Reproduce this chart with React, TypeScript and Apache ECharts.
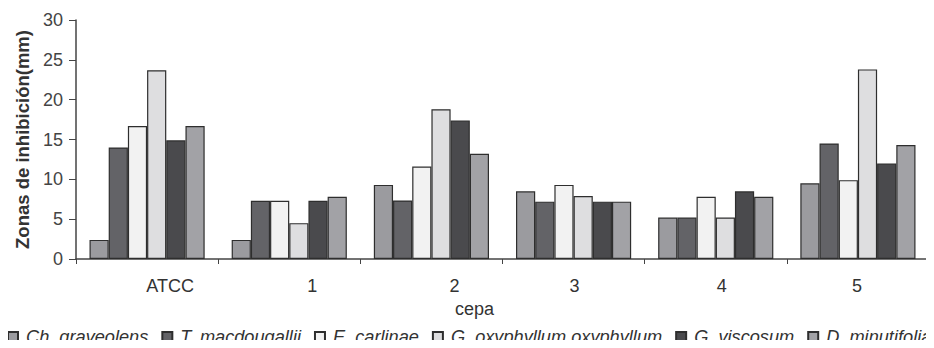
import React, { useEffect, useRef } from "react";
import * as echarts from "echarts";

const categories = ["ATCC", "1", "2", "3", "4", "5"];
const seriesNames = [
  "Ch. graveolens",
  "T. macdougallii",
  "E. carlinae",
  "G. oxyphyllum oxyphyllum",
  "G. viscosum",
  "D. minutifolia",
];
const chGraveolens = [2.4, 2.4, 9.3, 8.5, 5.2, 9.5];
const tMacdougallii = [14.0, 7.3, 7.35, 7.2, 5.2, 14.5];
const eCarlinae = [16.7, 7.3, 11.6, 9.3, 7.8, 9.9];
const gOxyphyllum = [23.7, 4.5, 18.8, 7.9, 5.2, 23.8];
const gViscosum = [14.9, 7.3, 17.4, 7.2, 8.5, 12.0];
const dMinutifolia = [16.7, 7.8, 13.2, 7.2, 7.8, 14.3];

const colors = ["#9b9b9f", "#636367", "#f2f2f2", "#dedee0", "#4a4a4d", "#a2a2a6"];
// horizontal shift of each category label (px), as in the original figure
const labelShift: Record<string, number> = { ATCC: 23, "1": 23, "2": 23, "3": 1, "4": 6, "5": -1 };

export default function App() {
  const ref = useRef<HTMLDivElement>(null);
  useEffect(() => {
    if (!ref.current) return;
    const chart = echarts.init(ref.current, null, { renderer: "svg" });
    const data = [chGraveolens, tMacdougallii, eCarlinae, gOxyphyllum, gViscosum, dMinutifolia];
    const rich: Record<string, any> = {};
    categories.forEach((c, i) => {
      const s = labelShift[c] || 0;
      rich["c" + i] = {
        fontSize: 18,
        color: "#333",
        padding: s >= 0 ? [0, 0, 0, 2 * s] : [0, -2 * s, 0, 0],
      };
    });
    chart.setOption({
      animation: false,
      textStyle: { fontFamily: "Liberation Sans, Arial, sans-serif" },
      grid: { left: 76, top: 20, right: 5, bottom: 89, containLabel: false },
      legend: {
        top: 328,
        left: 7,
        width: 927,
        padding: 0,
        itemWidth: 10,
        itemHeight: 10,
        itemGap: 13,
        icon: "rect",
        textStyle: { fontSize: 18.2, fontStyle: "italic", color: "#333", padding: [0, 0, 0, 3] },
        data: seriesNames,
      },
      xAxis: {
        type: "category",
        data: categories,
        name: "cepa",
        nameLocation: "middle",
        nameGap: 40,
        nameTextStyle: { fontSize: 18, color: "#333", padding: [0, 56, 0, 0] },
        axisLine: { lineStyle: { color: "#444", width: 1.5 } },
        axisTick: { show: true, length: 5, lineStyle: { color: "#444" } },
        axisLabel: {
          fontSize: 18,
          color: "#333",
          margin: 18,
          formatter: (v: string) => {
            const i = categories.indexOf(v);
            return "{c" + i + "|" + v + "}";
          },
          rich,
        },
      },
      yAxis: {
        type: "value",
        min: 0,
        max: 30,
        interval: 5,
        name: "Zonas de inhibición(mm)",
        nameLocation: "middle",
        nameGap: 44,
        nameTextStyle: { fontSize: 18.5, fontWeight: "bold", color: "#333" },
        axisLine: { show: true, lineStyle: { color: "#444", width: 1.5 } },
        axisTick: { show: true, length: 7, lineStyle: { color: "#444" } },
        splitLine: { show: false },
        axisLabel: { fontSize: 18, color: "#444", margin: 13 },
      },
      series: seriesNames.map((name, i) => ({
        name,
        type: "bar",
        data: data[i],
        barGap: "0%",
        barCategoryGap: "19%",
        itemStyle: { color: colors[i], borderColor: "#2e2e2e", borderWidth: 1.2 },
      })),
    });
    return () => chart.dispose();
  }, []);
  return <div ref={ref} style={{ width: 934, height: 348, margin: -8 }} />;
}
